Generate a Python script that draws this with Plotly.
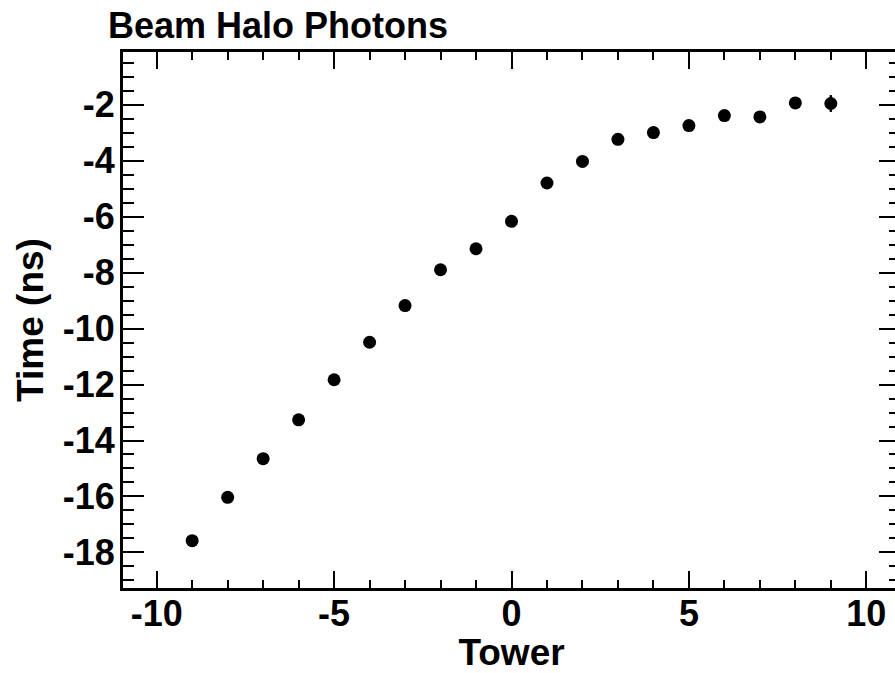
import plotly.graph_objects as go

# Mean arrival time of beam-halo photons per calorimeter tower
tower = [-9, -8, -7, -6, -5, -4, -3, -2, -1, 0, 1, 2, 3, 4, 5, 6, 7, 8, 9]
time_ns = [-17.58, -16.03, -14.65, -13.26, -11.83, -10.49, -9.18, -7.90, -7.15,
           -6.17, -4.80, -4.03, -3.24, -3.00, -2.75, -2.39, -2.44, -1.94, -1.96]
time_err = [0.10, 0.08, 0.08, 0.07, 0.07, 0.07, 0.07, 0.07, 0.07,
            0.07, 0.07, 0.07, 0.08, 0.08, 0.09, 0.10, 0.12, 0.15, 0.30]

# Axis tick values and their labels (plain hyphen as minus sign)
x_tickvals = [-10, -5, 0, 5, 10]
x_ticktext = ["-10", "-5", "0", "5", "10"]
y_tickvals = [-18, -16, -14, -12, -10, -8, -6, -4, -2]
y_ticktext = ["-18", "-16", "-14", "-12", "-10", "-8", "-6", "-4", "-2"]

FONT = "Liberation Sans, Arial, Helvetica, sans-serif"

fig = go.Figure()
fig.add_trace(go.Scatter(
    x=tower, y=time_ns, mode="markers",
    marker=dict(symbol="circle", size=13, color="black"),
    error_y=dict(type="data", array=time_err, visible=True,
                 color="black", thickness=2.5, width=0),
    showlegend=False,
))

axis_common = dict(
    showline=True, linecolor="black", linewidth=3, mirror="ticks",
    ticks="inside", tickcolor="black", tickwidth=2,
    showgrid=False, zeroline=False, automargin=False,
    tickfont=dict(family=FONT, size=36, color="black", weight="bold"),
)

fig.update_xaxes(
    range=[-10.95, 10.95], tickmode="array",
    tickvals=x_tickvals, ticktext=x_ticktext, ticklen=17,
    minor=dict(ticks="inside", dtick=1, tick0=0, ticklen=8,
               tickwidth=2, tickcolor="black"),
    ticklabelstandoff=-8,
    title=dict(text="Tower", standoff=14,
               font=dict(family=FONT, size=37, color="black", weight="bold")),
    **axis_common,
)
fig.update_yaxes(
    range=[-19.27, -0.12], tickmode="array",
    tickvals=y_tickvals, ticktext=y_ticktext, ticklen=21,
    minor=dict(ticks="inside", dtick=0.5, tick0=0, ticklen=11,
               tickwidth=2, tickcolor="black"),
    ticklabelstandoff=-2,
    title=dict(text="Time (ns)", standoff=8,
               font=dict(family=FONT, size=37, color="black", weight="bold")),
    **axis_common,
)

fig.update_layout(
    width=910, height=673,
    margin=dict(l=123, r=10, t=52, b=85),
    paper_bgcolor="white", plot_bgcolor="white",
    title=dict(text="Beam Halo Photons", xref="container", yref="container",
               x=108 / 910, xanchor="left", y=1 - 25 / 673, yanchor="middle",
               font=dict(family=FONT, size=36, color="black", weight="bold")),
)

fig.write_html(
    "out.html",
    post_script="document.documentElement.style.overflow='hidden';"
                "document.body.style.overflow='hidden';",
)
